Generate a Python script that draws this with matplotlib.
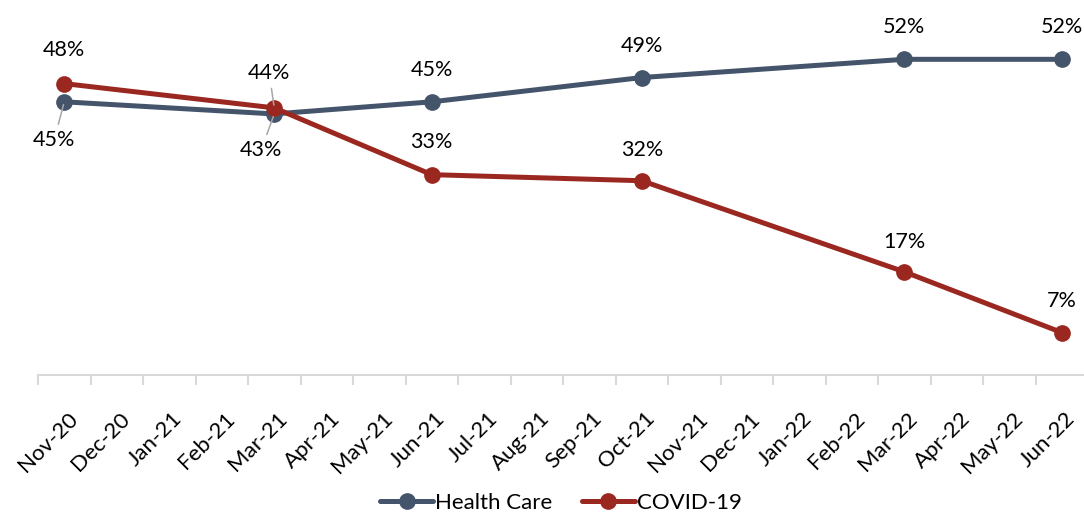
import matplotlib
matplotlib.use("Agg")
import matplotlib.pyplot as plt
from matplotlib.transforms import ScaledTranslation

months = ["Nov-20", "Dec-20", "Jan-21", "Feb-21", "Mar-21", "Apr-21", "May-21",
          "Jun-21", "Jul-21", "Aug-21", "Sep-21", "Oct-21", "Nov-21", "Dec-21",
          "Jan-22", "Feb-22", "Mar-22", "Apr-22", "May-22", "Jun-22"]
survey_months = ["Nov-20", "Mar-21", "Jun-21", "Oct-21", "Mar-22", "Jun-22"]
health_care = [45, 43, 45, 49, 52, 52]
covid_19 = [48, 44, 33, 32, 17, 7]

HEALTH_COLOR = "#44546A"
COVID_COLOR = "#9B2820"
LABEL_FONT = ["Lato", "DejaVu Sans"]

fig = plt.figure(figsize=(10.84, 5.12), dpi=100)
ax = fig.add_axes([38 / 1084, 137 / 512, 1050 / 1084, 360 / 512])

xpos = [months.index(m) for m in survey_months]

ax.plot(xpos, health_care, color=HEALTH_COLOR, lw=3.6, marker="o", ms=11,
        label="Health Care", zorder=3, solid_capstyle="round")
ax.plot(xpos, covid_19, color=COVID_COLOR, lw=3.6, marker="o", ms=11,
        label="COVID-19", zorder=4, solid_capstyle="round")

# data labels: (series, index, dx, dy in pixels, leader line)
label_specs = [
    (health_care, 0, -10, -38, True),
    (health_care, 1, -13, -36, True),
    (health_care, 2, 0, 32, False),
    (health_care, 3, 0, 32, False),
    (health_care, 4, 0, 32, False),
    (health_care, 5, 0, 32, False),
    (covid_19, 0, 0, 34, False),
    (covid_19, 1, -5, 35, True),
    (covid_19, 2, 0, 33, False),
    (covid_19, 3, 0, 31, False),
    (covid_19, 4, 0, 30, False),
    (covid_19, 5, 0, 32, False),
]
for series, i, dx, dy, leader in label_specs:
    kw = {}
    if leader:
        kw["arrowprops"] = dict(arrowstyle="-", color="#A6A6A6", lw=1.1,
                                shrinkA=2, shrinkB=2)
    ax.annotate(f"{series[i]}%", xy=(xpos[i], series[i]), xytext=(dx, dy),
                textcoords="offset pixels", ha="center", va="center",
                fontsize=15.5, family=LABEL_FONT, color="#000000", zorder=5, **kw)

ax.set_xlim(-0.5, len(months) - 0.5)
ax.set_ylim(0, 59.3)
ax.set_yticks([])

for s in ["top", "right", "left"]:
    ax.spines[s].set_visible(False)
ax.spines["bottom"].set_color("#D9D9D9")
ax.spines["bottom"].set_linewidth(1.5)

ax.set_xticks(range(len(months)))
ax.set_xticklabels(months, rotation=45, ha="right", rotation_mode="anchor",
                   fontsize=16, family=LABEL_FONT)
ax.tick_params(axis="x", which="major", length=0, pad=24)
shift = ScaledTranslation(3 / 100, 0, fig.dpi_scale_trans)
for lbl in ax.get_xticklabels():
    lbl.set_transform(lbl.get_transform() + shift)
ax.set_xticks([i - 0.5 for i in range(len(months) + 1)], minor=True)
ax.tick_params(axis="x", which="minor", length=7, width=1.5, color="#D9D9D9")

leg = fig.legend(loc="center", bbox_to_anchor=(561 / 1084, 1 - 503 / 512),
                 ncol=2, frameon=False, handlelength=2.4,
                 columnspacing=1.3, handletextpad=0.1,
                 prop={"family": LABEL_FONT, "size": 16})

fig.savefig("out.png", dpi=100)
